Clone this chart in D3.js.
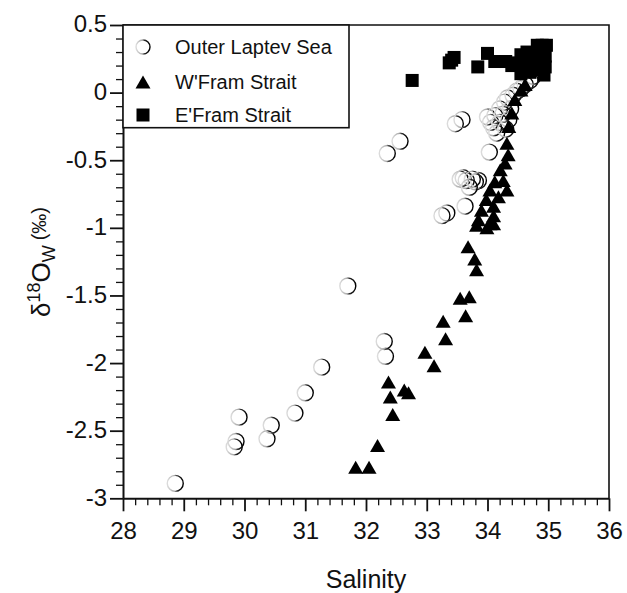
<!DOCTYPE html>
<html>
<head>
<meta charset="utf-8">
<script src="https://cdn.jsdelivr.net/npm/d3@7"></script>
<style>
  body { margin: 0; background: #fff; }
  svg { display: block; }
  text { font-family: "Liberation Sans", Arial, Helvetica, sans-serif; fill: #111; }
</style>
</head>
<body>
<svg id="chart" width="627" height="593"></svg>
<script>
// Outer Laptev Sea samples (salinity, δ18O of water in ‰)
const laptevSalinity = [28.86, 29.83, 29.86, 29.91, 30.37, 30.44, 30.83, 31.00, 31.27, 31.70,
  32.30, 32.32, 32.35, 32.56, 33.25, 33.33, 33.63, 33.55, 33.60, 33.65, 33.75, 33.80, 33.85, 33.70,
  34.03, 33.47, 33.58,
  34.00, 34.05, 34.10, 34.12, 34.15, 34.20, 34.20, 34.25, 34.28, 34.30, 34.33, 34.38, 34.42,
  34.48, 34.55, 34.62, 34.70, 34.75, 34.35];
const laptevD18O = [-2.89, -2.62, -2.58, -2.40, -2.56, -2.46, -2.37, -2.22, -2.03, -1.43,
  -1.84, -1.95, -0.45, -0.36, -0.91, -0.89, -0.84, -0.64, -0.63, -0.65, -0.64, -0.66, -0.65, -0.70,
  -0.44, -0.23, -0.20,
  -0.18, -0.22, -0.26, -0.17, -0.30, -0.22, -0.12, -0.16, -0.07, -0.27, -0.04, -0.12, -0.02,
  0.01, 0.03, 0.06, 0.09, 0.12, -0.20];

// W'Fram Strait samples
const wFramSalinity = [31.83, 32.05, 32.19, 32.44, 32.40, 32.37, 32.63, 32.70, 33.12, 32.97,
  33.31, 33.27, 33.64, 33.55, 33.70, 33.82, 33.79, 33.68, 33.82, 33.99, 34.10, 34.04, 33.85,
  34.10, 33.90, 34.10, 33.98, 34.18, 34.04, 34.32, 34.12, 34.26, 34.21, 34.29, 34.34, 34.32,
  34.35, 34.40, 34.45, 34.55, 34.62];
const wFramD18O = [-2.77, -2.77, -2.61, -2.38, -2.25, -2.14, -2.20, -2.22, -2.02, -1.92,
  -1.82, -1.69, -1.65, -1.52, -1.51, -1.31, -1.23, -1.14, -0.98, -1.00, -0.97, -0.97, -0.94,
  -0.91, -0.87, -0.84, -0.79, -0.77, -0.72, -0.72, -0.66, -0.65, -0.57, -0.52, -0.46, -0.375,
  -0.25, -0.15, -0.05, 0.02, 0.06];

// E'Fram Strait samples
const eFramSalinity = [32.76, 33.37, 33.45, 33.41, 33.84, 34.00, 34.12, 34.30, 34.55, 34.60,
  34.65, 34.70, 34.75, 34.80, 34.82, 34.88, 34.90, 34.95, 34.97, 34.95, 34.85, 34.60, 34.70,
  34.50, 34.55, 34.65, 34.75, 34.80, 34.90, 34.85, 34.93, 34.40];
const eFramD18O = [0.09, 0.22, 0.26, 0.24, 0.19, 0.29, 0.23, 0.23, 0.28, 0.20,
  0.24, 0.28, 0.19, 0.25, 0.35, 0.30, 0.22, 0.27, 0.35, 0.19, 0.17, 0.18, 0.15,
  0.22, 0.14, 0.30, 0.24, 0.18, 0.35, 0.28, 0.13, 0.20];

// Axis ticks
const xMajorTicks = [28, 29, 30, 31, 32, 33, 34, 35, 36];
const yMajorTicks = [0.5, 0, -0.5, -1, -1.5, -2, -2.5, -3];
const yTickLabels = ["0.5", "0", "-0.5", "-1", "-1.5", "-2", "-2.5", "-3"];

const legendLabels = ["Outer Laptev Sea", "W'Fram Strait", "E'Fram Strait"];

const svg = d3.select("#chart");
const plotLeft = 123, plotRight = 609, plotTop = 25, plotBottom = 498.3;

const x = d3.scaleLinear().domain([28, 36]).range([plotLeft, plotRight]);
const y = d3.scaleLinear().domain([-3, 0.5]).range([plotBottom, plotTop]);

const xMinor = d3.range(280, 361, 2).map(v => v / 10).filter(v => !Number.isInteger(v));
const yMinor = d3.range(-30, 6, 1).map(v => v / 10).filter(v => Math.abs(v * 2 - Math.round(v * 2)) > 1e-6);

// Ring gradient: faint on the left, solid on the right
const defs = svg.append("defs");
const grad = defs.append("linearGradient").attr("id", "ring")
  .attr("x1", 0).attr("x2", 1).attr("y1", 0).attr("y2", 0);
grad.append("stop").attr("offset", "0").attr("stop-color", "#dcdcdc");
grad.append("stop").attr("offset", "0.45").attr("stop-color", "#a8a8a8");
grad.append("stop").attr("offset", "0.62").attr("stop-color", "#222");
grad.append("stop").attr("offset", "1").attr("stop-color", "#000");

// Minor ticks
svg.append("g").attr("transform", `translate(0,${plotBottom})`)
  .call(d3.axisBottom(x).tickValues(xMinor).tickSize(7).tickFormat(""))
  .call(g => g.select(".domain").remove())
  .call(g => g.selectAll("line").attr("stroke", "#111").attr("stroke-width", 1.3));
svg.append("g").attr("transform", `translate(${plotLeft},0)`)
  .call(d3.axisLeft(y).tickValues(yMinor).tickSize(7).tickFormat(""))
  .call(g => g.select(".domain").remove())
  .call(g => g.selectAll("line").attr("stroke", "#111").attr("stroke-width", 1.3));

// Major ticks and labels
svg.append("g").attr("transform", `translate(0,${plotBottom})`)
  .call(d3.axisBottom(x).tickValues(xMajorTicks).tickSize(13).tickSizeOuter(0).tickFormat(d => String(d)))
  .call(g => g.select(".domain").attr("stroke", "#111").attr("stroke-width", 2))
  .call(g => g.selectAll("line").attr("stroke", "#111").attr("stroke-width", 1.8))
  .call(g => g.selectAll("text").attr("y", 41).attr("dy", 0)
    .attr("font-size", 24).attr("fill", "#111"));
svg.append("g").attr("transform", `translate(${plotLeft},0)`)
  .call(d3.axisLeft(y).tickValues(yMajorTicks).tickSize(13).tickSizeOuter(0)
    .tickFormat((d, i) => yTickLabels[i]))
  .call(g => g.select(".domain").attr("stroke", "#111").attr("stroke-width", 2))
  .call(g => g.selectAll("line").attr("stroke", "#111").attr("stroke-width", 1.8))
  .call(g => g.selectAll("text").attr("x", -16).attr("dy", "0.29em")
    .attr("font-size", 24).attr("fill", "#111"));

// Top and right frame
svg.append("path")
  .attr("d", `M${plotLeft},${plotTop}H${plotRight}V${plotBottom}`)
  .attr("fill", "none").attr("stroke", "#111").attr("stroke-width", 1.6);

// Marker shapes
const triPath = (w, h) => `M0,${-h / 2}L${w / 2},${h / 2}L${-w / 2},${h / 2}Z`;
const sq = 13;

const laptev = laptevSalinity.map((s, i) => ({ s, d: laptevD18O[i] }));
const wFram = wFramSalinity.map((s, i) => ({ s, d: wFramD18O[i] }));
const eFram = eFramSalinity.map((s, i) => ({ s, d: eFramD18O[i] }));

svg.append("g").selectAll("circle").data(laptev).join("circle")
  .attr("cx", d => x(d.s)).attr("cy", d => y(d.d)).attr("r", 8)
  .attr("fill", "none").attr("stroke", "url(#ring)").attr("stroke-width", 1.4);

svg.append("g").selectAll("path").data(wFram).join("path")
  .attr("transform", d => `translate(${x(d.s)},${y(d.d)})`)
  .attr("d", triPath(15, 13)).attr("fill", "#000");

svg.append("g").selectAll("rect").data(eFram).join("rect")
  .attr("x", d => x(d.s) - sq / 2).attr("y", d => y(d.d) - sq / 2)
  .attr("width", sq).attr("height", sq).attr("fill", "#000");

// Legend
const lg = svg.append("g");
lg.append("rect").attr("x", plotLeft).attr("y", plotTop).attr("width", 226).attr("height", 102.7)
  .attr("fill", "#fff").attr("stroke", "#111").attr("stroke-width", 1.6);
const rowsY = [47, 82, 115];
lg.append("circle").attr("cx", 143).attr("cy", rowsY[0]).attr("r", 7)
  .attr("fill", "none").attr("stroke", "url(#ring)").attr("stroke-width", 1.4);
lg.append("path").attr("transform", `translate(143,${rowsY[1]})`)
  .attr("d", triPath(15, 13)).attr("fill", "#000");
lg.append("rect").attr("x", 143 - sq / 2).attr("y", rowsY[2] - sq / 2)
  .attr("width", sq).attr("height", sq).attr("fill", "#000");
lg.selectAll("text.lab").data(legendLabels).join("text").attr("class", "lab")
  .attr("x", 175).attr("y", (d, i) => rowsY[i] + 7)
  .attr("font-size", 20).text(d => d);

// Axis titles
svg.append("text").attr("x", (plotLeft + plotRight) / 2).attr("y", 588)
  .attr("text-anchor", "middle").attr("font-size", 25).text("Salinity");

const yl = svg.append("text")
  .attr("transform", "translate(50,262) rotate(-90)")
  .attr("text-anchor", "middle").attr("font-size", 26);
yl.append("tspan").text("δ");
yl.append("tspan").attr("font-size", 18).attr("dy", -10).text("18");
yl.append("tspan").attr("dy", 10).text("O");
yl.append("tspan").attr("font-size", 18).attr("dy", 5).text("W");
yl.append("tspan").attr("font-size", 20).attr("dx", 5).attr("dy", -9).text("(‰)");
</script>
</body>
</html>
